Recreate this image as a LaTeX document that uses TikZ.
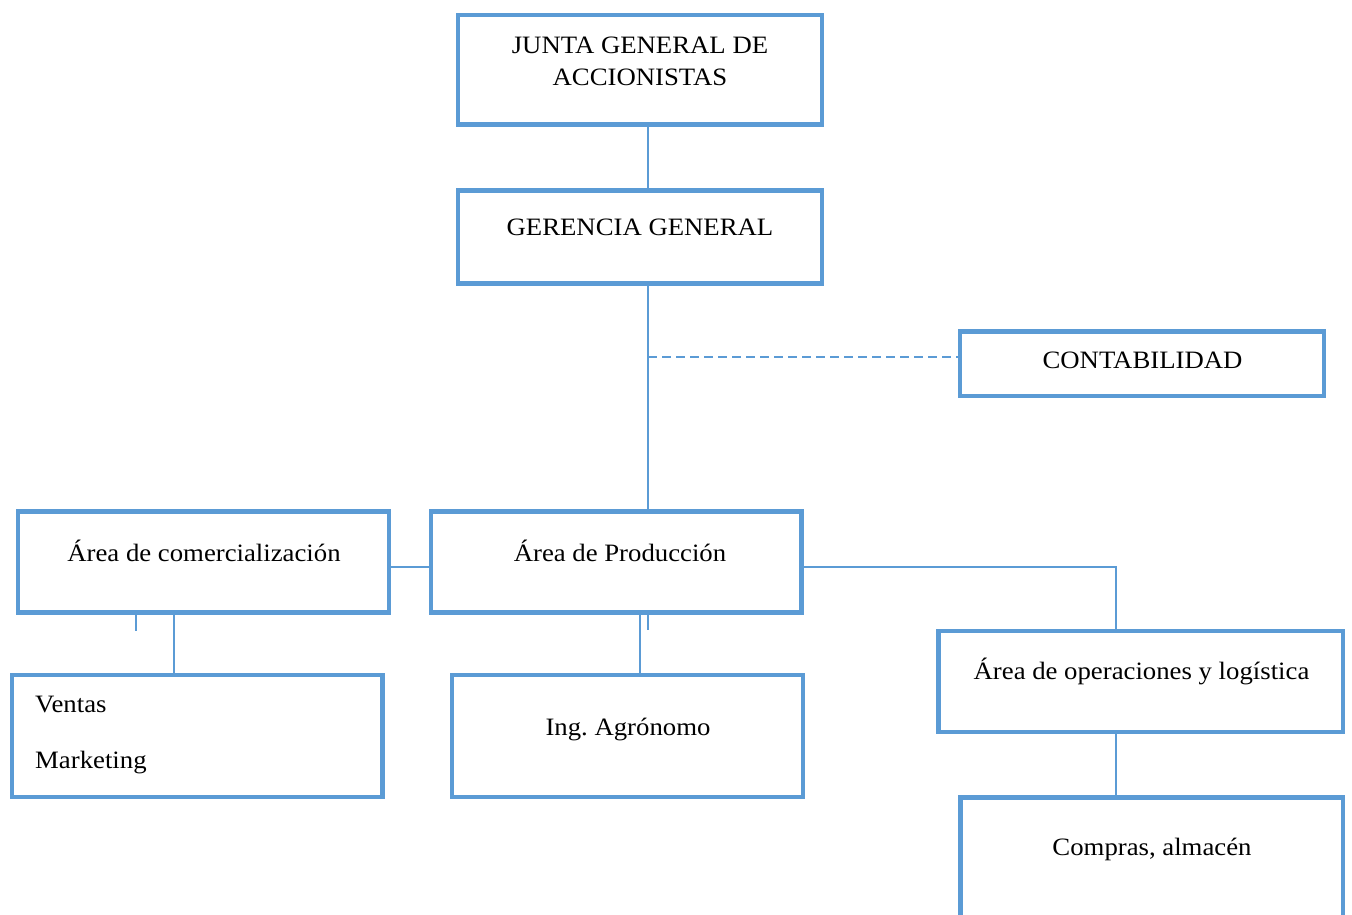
\documentclass[tikz,border=0pt]{standalone}
\usepackage{fontspec}
\setmainfont[FakeStretch=1.07]{Liberation Serif}
\frenchspacing
\definecolor{orgblue}{HTML}{5B9BD5}
\begin{document}
\begin{tikzpicture}[x=1pt,y=-1pt,
  box/.style={draw=orgblue, line width=4.5pt, rectangle, inner sep=0pt, fill=white},
  link/.style={draw=orgblue, line width=2pt},
  dotlink/.style={draw=orgblue, line width=2pt, dash pattern=on 9pt off 5pt},
  txt/.style={anchor=base, inner sep=0pt, font=\fontsize{25}{32}\selectfont, align=center}]
  \useasboundingbox (0,0) rectangle (1352,914);
  \clip (0,0) rectangle (1352,914);

  % guide positions for the connectors
  \coordinate (spine) at (648,0);
  \coordinate (dashy) at (0,357);
  \coordinate (midrow) at (0,567);
  \coordinate (comx) at (174,0);
  \coordinate (comstub) at (136,631);
  \coordinate (prodx) at (639.5,0);
  \coordinate (prodstub) at (647.5,630);
  \coordinate (opsx) at (1116,0);

  % connectors
  \draw[link] (640,124.5 -| spine) -- (640,190.5 -| spine);
  \draw[link] (spine |- 0,283.5) -- (spine |- 0,511.5);
  \draw[dotlink] (spine |- dashy) -- (963,357);
  \draw[link] (389,567) -- (431,567);
  \draw[link] (comx |- 0,612.5) -- (comx |- 0,675);
  \draw[link] (comstub |- 0,612.5) -- (comstub);
  \draw[link] (prodx |- 0,612.5) -- (prodx |- 0,675);
  \draw[link] (prodstub |- 0,612.5) -- (prodstub);
  \draw[link] (801.5,567) -| (opsx |- 0,631);
  \draw[link] (opsx |- 0,732) -- (opsx |- 0,797.5);

  % boxes
  \node[box, minimum width=364, minimum height=109.5] (junta) at (640,69.75) {};
  \node[box, minimum width=364, minimum height=93] (geren) at (640,237) {};
  \node[box, minimum width=364, minimum height=64.5] (contab) at (1142,363.75) {};
  \node[box, minimum width=371, minimum height=101] (com) at (203.5,562) {};
  \node[box, minimum width=370.5, minimum height=101] (prod) at (616.25,562) {};
  \node[box, minimum width=370.5, minimum height=122] (ventas) at (197.25,736) {};
  \node[box, minimum width=351, minimum height=122] (ing) at (627.5,736) {};
  \node[box, minimum width=404.5, minimum height=101] (ops) at (1140.75,681.5) {};
  \node[box, minimum width=382.5, minimum height=200] (compras) at (1151.75,897.5) {};

  % labels
  \node[txt] (junta-t) at (640,85) {JUNTA GENERAL DE\\ACCIONISTAS};
  \node[txt] (geren-t) at (640,235) {GERENCIA GENERAL};
  \node[txt] (contab-t) at (1142.5,368) {CONTABILIDAD};
  \node[txt] (com-t) at (204,561) {Área de comercialización};
  \node[txt] (prod-t) at (620,561) {Área de Producción};
  \node[txt, anchor=base west] (ventas-t) at (35,712) {Ventas};
  \node[txt, anchor=base west] (mkt-t) at (35,768) {Marketing};
  \node[txt] (ing-t) at (628,735) {Ing. Agrónomo};
  \node[txt] (ops-t) at (1141.5,679.5) {Área de operaciones y logística};
  \node[txt] (compras-t) at (1152,855) {Compras, almacén};
\end{tikzpicture}
\end{document}
